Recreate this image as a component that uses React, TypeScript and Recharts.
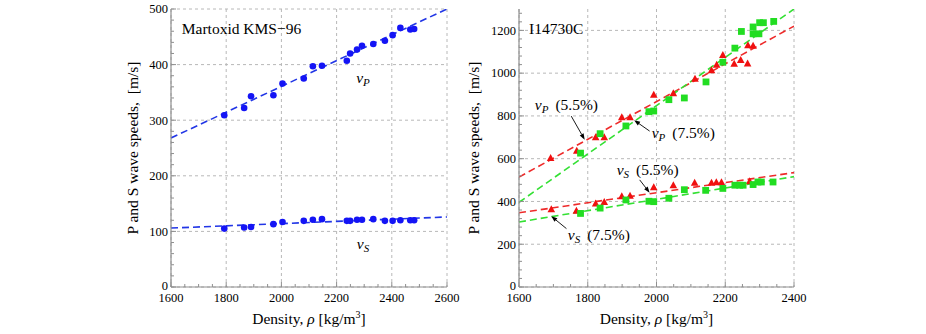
import React from 'react';
import {
    ComposedChart,
    Scatter,
    Line,
    XAxis,
    YAxis,
    CartesianGrid,
    ReferenceLine,
    ReferenceDot,
    Label
} from 'recharts';

const SERIF = '"Liberation Serif", "DejaVu Serif", serif';
const FRAME = '#8f8f8f';
const GRID = '#b8b8b8';

// Martoxid KMS-96 (left panel)
const kmsDensity = [1793, 1865, 1890, 1971, 2004, 2081, 2114, 2147, 2237, 2249, 2274, 2292, 2333, 2375, 2403, 2431, 2467, 2481];
const kmsVp = [309, 322, 343, 345, 366, 375, 397, 398, 407, 420, 427, 434, 437, 443, 453, 466, 463, 464];
const kmsVs = [105, 107, 108, 113, 117, 119, 121, 122, 119, 119, 121, 121, 122, 119, 119, 120, 120, 120];
const kmsFitDensity = [1600, 2600];
const kmsVpFit = [268, 500];
const kmsVsFit = [106, 126];

// I14730C (right panel), 5.5% and 7.5%
const vp55Density = [1692, 1768, 1823, 1848, 1899, 1923, 1992, 2049, 2112, 2160, 2175, 2193, 2226, 2245, 2265, 2266, 2281];
const vp55 = [603, 637, 700, 700, 794, 794, 899, 906, 974, 1014, 1039, 1085, 1044, 1062, 1045, 1130, 1128];
const vp75Density = [1779, 1836, 1911, 1978, 1992, 2036, 2081, 2144, 2193, 2228, 2247, 2281, 2281, 2298, 2300, 2311, 2341];
const vp75 = [626, 717, 753, 820, 823, 876, 884, 959, 1051, 1117, 1195, 1216, 1184, 1184, 1236, 1236, 1242];
const vs55Density = [1694, 1767, 1823, 1848, 1899, 1923, 1992, 2049, 2111, 2160, 2174, 2189, 2271];
const vs55 = [363, 356, 390, 398, 424, 427, 466, 476, 487, 487, 490, 490, 495];
const vs75Density = [1779, 1836, 1911, 1978, 1992, 2036, 2081, 2143, 2193, 2228, 2242, 2252, 2281, 2295, 2305, 2339];
const vs75 = [344, 369, 407, 401, 399, 415, 455, 452, 461, 476, 476, 476, 479, 491, 491, 491];
const iFitDensity = [1600, 2400];
const vp55Fit = [514, 1220];
const vp75Fit = [396, 1300];
const vs55Fit = [347, 535];
const vs75Fit = [304, 516];

// tick labels
const kmsXMajor = [1600, 1800, 2000, 2200, 2400, 2600];
const kmsYMajor = [0, 100, 200, 300, 400, 500];
const iXMajor = [1600, 1800, 2000, 2200, 2400];
const iYMajor = [0, 200, 400, 600, 800, 1000, 1200];

const zip = (xs: number[], ys: number[]) => xs.map((x, i) => ({ x, y: ys[i] }));
const steps = (from: number, to: number, step: number) => {
    const out: number[] = [];
    for (let v = from; v <= to + 1e-9; v += step) out.push(v);
    return out;
};

type Side = 'bottom' | 'top' | 'left' | 'right';

const makeTick = (side: Side, majors: number[]) => (props: any) => {
    const { x, y, payload } = props;
    const major = majors.includes(payload.value);
    const len = major ? 5 : 3;
    let x2 = x, y2 = y;
    if (side === 'bottom') y2 = y - len;
    if (side === 'top') y2 = y + len;
    if (side === 'left') x2 = x + len;
    if (side === 'right') x2 = x - len;
    return (
        <g>
            <line x1={x} y1={y} x2={x2} y2={y2} stroke={FRAME} strokeWidth={1} />
            {major && side === 'bottom' && (
                <text x={x} y={y + 14.5} textAnchor="middle" fontFamily={SERIF} fontSize={12.5} fill="#000">{payload.value}</text>
            )}
            {major && side === 'left' && (
                <text x={x - 3} y={y + (payload.value === 0 ? 3 : 4.3)} textAnchor="end" fontFamily={SERIF} fontSize={12.5} fill="#000">{payload.value}</text>
            )}
        </g>
    );
};

const yTitle = (dx: number) => (props: any) => {
    const { viewBox } = props;
    const x = viewBox.x + viewBox.width + dx;
    const y = viewBox.y + viewBox.height / 2;
    return (
        <text transform={`translate(${x},${y}) rotate(-90)`} textAnchor="middle" fontFamily={SERIF} fontSize={15.5} fill="#000" style={{ whiteSpace: 'pre' }}>
            P and S wave speeds,  [m/s]
        </text>
    );
};

const xTitle = (props: any) => {
    const { viewBox } = props;
    return (
        <text x={viewBox.x + viewBox.width / 2} y={viewBox.y + 37} textAnchor="middle" fontFamily={SERIF} fontSize={15.5} fill="#000">
            Density, <tspan fontStyle="italic">ρ</tspan> [kg/m<tspan dy={-6} fontSize={10}>3</tspan><tspan dy={6}>]</tspan>
        </text>
    );
};

const circleShape = (color: string) => (p: any) => <circle cx={p.cx} cy={p.cy} r={3.3} fill={color} />;
const triangleShape = (color: string) => (p: any) => (
    <polygon points={`${p.cx},${p.cy - 4} ${p.cx - 3.8},${p.cy + 3} ${p.cx + 3.8},${p.cy + 3}`} fill={color} />
);
const squareShape = (color: string) => (p: any) => (
    <rect x={p.cx - 3.4} y={p.cy - 3.4} width={6.8} height={6.8} fill={color} />
);

const textShape = (content: React.ReactNode, size = 15.5) => (p: any) => (
    <text x={p.cx} y={p.cy} fontFamily={SERIF} fontSize={size} fill="#000">{content}</text>
);

const mathLabel = (sub: string, pct?: string) => (
    <>
        <tspan fontStyle="italic">v</tspan>
        <tspan fontStyle="italic" fontSize={11} dy={3}>{sub}</tspan>
        {pct && <tspan dy={-3}>{'\u2009 (' + pct + ')'}</tspan>}
    </>
);

const arrowShape = (p: any) => {
    const { x1, y1, x2, y2 } = p;
    const ang = Math.atan2(y2 - y1, x2 - x1);
    const L = 6, W = 2.2;
    const bx = x2 - L * Math.cos(ang), by = y2 - L * Math.sin(ang);
    const px = -Math.sin(ang) * W, py = Math.cos(ang) * W;
    return (
        <g>
            <line x1={x1} y1={y1} x2={bx} y2={by} stroke="#000" strokeWidth={0.9} />
            <polygon points={`${x2},${y2} ${bx + px},${by + py} ${bx - px},${by - py}`} fill="#000" />
        </g>
    );
};

interface PanelProps {
    width: number;
    margin: { top: number; right: number; bottom: number; left: number };
    xDomain: [number, number];
    yDomain: [number, number];
    xMajor: number[];
    yMajor: number[];
    xMinorStep: number;
    yMinorStep: number;
    titleDx: number;
    children: React.ReactNode;
}

const Panel: React.FC<PanelProps> = ({ width, margin, xDomain, yDomain, xMajor, yMajor, xMinorStep, yMinorStep, titleDx, children }) => {
    const xTicks = steps(xDomain[0], xDomain[1], xMinorStep);
    const yTicks = steps(yDomain[0], yDomain[1], yMinorStep);
    const axisLine = { stroke: FRAME, strokeWidth: 1.2 };
    return (
        <ComposedChart width={width} height={334} margin={margin}>
            <CartesianGrid stroke={GRID} strokeDasharray="3 3" horizontalValues={yMajor} verticalValues={xMajor} fill="none" />
            <XAxis dataKey="x" type="number" domain={xDomain} allowDataOverflow ticks={xTicks} interval={0}
                height={30} tickSize={0} tickMargin={0} tickLine={false} axisLine={axisLine} tick={makeTick('bottom', xMajor)}>
                <Label content={xTitle} />
            </XAxis>
            <XAxis xAxisId="top" orientation="top" dataKey="x" type="number" domain={xDomain} allowDataOverflow ticks={xTicks} interval={0}
                height={0} tickSize={0} tickMargin={0} tickLine={false} axisLine={axisLine} tick={makeTick('top', xMajor)} />
            <YAxis dataKey="y" type="number" domain={yDomain} allowDataOverflow ticks={yTicks} interval={0}
                width={40} tickSize={0} tickMargin={0} tickLine={false} axisLine={axisLine} tick={makeTick('left', yMajor)}>
                <Label content={yTitle(titleDx)} />
            </YAxis>
            <YAxis yAxisId="right" orientation="right" dataKey="y" type="number" domain={yDomain} allowDataOverflow ticks={yTicks} interval={0}
                width={0} tickSize={0} tickMargin={0} tickLine={false} axisLine={axisLine} tick={makeTick('right', yMajor)} />
            {children}
        </ComposedChart>
    );
};

const dashed = { strokeDasharray: '7 4', strokeWidth: 1.6, dot: false, isAnimationActive: false, legendType: 'none' as const };

export default function App() {
    const BLUE = '#1414f5';
    const BLUE_LINE = '#2236e6';
    const RED = '#f01010';
    const RED_LINE = '#ee2a2a';
    const GREEN = '#22dd22';
    const GREEN_LINE = '#33e033';

    return (
        <div style={{ position: 'absolute', left: 0, top: 0, width: 926, height: 334, background: '#fff' }}>
            <div style={{ position: 'absolute', left: 0, top: 0 }}>
                <Panel width={460} margin={{ top: 9, right: 13, bottom: 17, left: 131 }}
                    xDomain={[1600, 2600]} yDomain={[0, 500]} xMajor={kmsXMajor} yMajor={kmsYMajor}
                    xMinorStep={50} yMinorStep={20} titleDx={-33.5}>
                    <Line data={zip(kmsFitDensity, kmsVpFit)} dataKey="y" stroke={BLUE_LINE} {...dashed} />
                    <Line data={zip(kmsFitDensity, kmsVsFit)} dataKey="y" stroke={BLUE_LINE} {...dashed} />
                    <Scatter data={zip(kmsDensity, kmsVp)} dataKey="y" shape={circleShape(BLUE)} isAnimationActive={false} />
                    <Scatter data={zip(kmsDensity, kmsVs)} dataKey="y" shape={circleShape(BLUE)} isAnimationActive={false} />
                    <ReferenceDot x={1639} y={455} r={0} shape={textShape('Martoxid KMS\u221296')} />
                    <ReferenceDot x={2271} y={367} r={0} shape={textShape(mathLabel('P'))} />
                    <ReferenceDot x={2273} y={69} r={0} shape={textShape(mathLabel('S'))} />
                </Panel>
            </div>
            <div style={{ position: 'absolute', left: 460, top: 0 }}>
                <Panel width={466} margin={{ top: 9, right: 132, bottom: 17, left: 19 }}
                    xDomain={[1600, 2400]} yDomain={[0, 1300]} xMajor={iXMajor} yMajor={iYMajor}
                    xMinorStep={50} yMinorStep={40} titleDx={-40}>
                    <Line data={zip(iFitDensity, vp55Fit)} dataKey="y" stroke={RED_LINE} {...dashed} />
                    <Line data={zip(iFitDensity, vp75Fit)} dataKey="y" stroke={GREEN_LINE} {...dashed} />
                    <Line data={zip(iFitDensity, vs55Fit)} dataKey="y" stroke={RED_LINE} {...dashed} />
                    <Line data={zip(iFitDensity, vs75Fit)} dataKey="y" stroke={GREEN_LINE} {...dashed} />
                    <Scatter data={zip(vp55Density, vp55)} dataKey="y" shape={triangleShape(RED)} isAnimationActive={false} />
                    <Scatter data={zip(vs55Density, vs55)} dataKey="y" shape={triangleShape(RED)} isAnimationActive={false} />
                    <Scatter data={zip(vp75Density, vp75)} dataKey="y" shape={squareShape(GREEN)} isAnimationActive={false} />
                    <Scatter data={zip(vs75Density, vs75)} dataKey="y" shape={squareShape(GREEN)} isAnimationActive={false} />
                    <ReferenceDot x={1629} y={1184} r={0} shape={textShape('I14730C')} />
                    <ReferenceDot x={1646} y={830} r={0} shape={textShape(mathLabel('P', '5.5%'))} />
                    <ReferenceDot x={1986} y={699} r={0} shape={textShape(mathLabel('P', '7.5%'))} />
                    <ReferenceDot x={1884} y={525} r={0} shape={textShape(mathLabel('S', '5.5%'))} />
                    <ReferenceDot x={1742} y={218} r={0} shape={textShape(mathLabel('S', '7.5%'))} />
                    <ReferenceLine segment={[{ x: 1752, y: 799 }, { x: 1791, y: 689 }]} shape={arrowShape} />
                    <ReferenceLine segment={[{ x: 1980, y: 729 }, { x: 1935, y: 780 }]} shape={arrowShape} />
                    <ReferenceLine segment={[{ x: 1951, y: 501 }, { x: 1980, y: 441 }]} shape={arrowShape} />
                    <ReferenceLine segment={[{ x: 1738, y: 273 }, { x: 1694, y: 331 }]} shape={arrowShape} />
                </Panel>
            </div>
        </div>
    );
}
